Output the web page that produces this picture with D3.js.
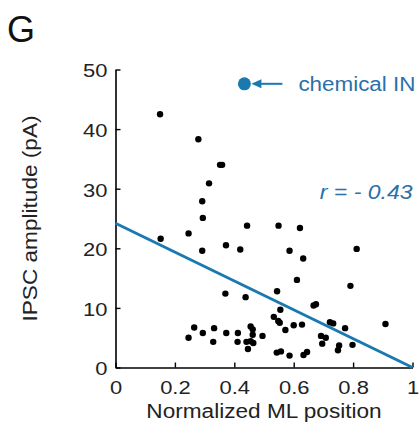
<!DOCTYPE html>
<html>
<head>
<meta charset="utf-8">
<script src="https://cdn.jsdelivr.net/npm/d3@7"></script>
<style>
  body { margin: 0; background: #fff; }
  svg text { font-family: "Liberation Sans", Arial, sans-serif; }
</style>
</head>
<body>
<svg id="chart"></svg>
<script>
// normalized ML position vs IPSC amplitude (pA), one entry per cell
const mlPos = [0.150, 0.279, 0.352, 0.359, 0.315, 0.292, 0.294, 0.443, 0.246, 0.152,
  0.372, 0.420, 0.292, 0.370, 0.438, 0.265, 0.246, 0.294, 0.332, 0.329,
  0.373, 0.412, 0.411, 0.455, 0.462, 0.462, 0.441, 0.455, 0.464, 0.446,
  0.495, 0.549, 0.621, 0.812, 0.586, 0.632, 0.611, 0.791, 0.544, 0.667,
  0.675, 0.555, 0.533, 0.548, 0.553, 0.600, 0.628, 0.722, 0.733, 0.909,
  0.773, 0.572, 0.692, 0.708, 0.696, 0.753, 0.749, 0.798, 0.543, 0.557,
  0.586, 0.633, 0.645];
const ipscAmp = [42.5, 38.3, 34.0, 34.0, 30.9, 27.9, 25.1, 23.8, 22.5, 21.6,
  20.5, 19.8, 19.6, 12.4, 11.8, 6.7, 5.0, 5.8, 6.6, 4.3,
  5.8, 5.8, 4.3, 6.9, 6.4, 5.5, 4.3, 4.4, 4.1, 3.1,
  5.3, 23.8, 23.4, 19.9, 19.6, 18.3, 14.7, 13.7, 12.8, 10.4,
  10.6, 9.7, 8.5, 7.8, 7.5, 7.1, 7.2, 7.6, 7.4, 7.3,
  6.6, 6.3, 5.3, 5.0, 4.0, 3.7, 2.9, 3.8, 2.5, 2.7,
  2.0, 2.1, 2.6];
// linear fit, r = -0.43
const fitX = [0, 1];
const fitY = [24.2, 0];
// chemical IN marker
const chemX = [0.434];
const chemY = [47.6];
const xTicks = [0, 0.2, 0.4, 0.6, 0.8, 1];
const yTicks = [0, 10, 20, 30, 40, 50];

const W = 420, H = 425;
const margin = {top: 69.5, right: 7.5, bottom: 57.5, left: 115.5};
const width = W - margin.left - margin.right;
const height = H - margin.top - margin.bottom;
const blue = "#1b79b1";
const textBlue = "#2b70a8";

// text in the figure is wider than Arial, widen glyphs to match
function stretch(sel, k) {
  sel.each(function() {
    const len = this.getComputedTextLength();
    d3.select(this).attr("textLength", len * k).attr("lengthAdjust", "spacingAndGlyphs");
  });
}

const svg = d3.select("#chart").attr("width", W).attr("height", H);
const g = svg.append("g").attr("transform", `translate(${margin.left},${margin.top})`);

const x = d3.scaleLinear().domain([0, 1]).range([0, width]);
const y = d3.scaleLinear().domain([0, 50]).range([height, 0]);

const xAxis = d3.axisBottom(x).tickValues(xTicks).tickSizeInner(-5).tickSizeOuter(0)
  .tickPadding(13.5).tickFormat(d3.format("~g"));
const yAxis = d3.axisLeft(y).tickValues(yTicks).tickSizeInner(-5).tickSizeOuter(0)
  .tickPadding(8);

const xG = g.append("g").attr("transform", `translate(0,${height})`).call(xAxis);
const yG = g.append("g").call(yAxis);

[xG, yG].forEach(ax => {
  ax.select(".domain").attr("stroke", "#000").attr("stroke-width", 1.6);
  ax.selectAll(".tick line").attr("stroke", "#000").attr("stroke-width", 1.4);
  ax.selectAll(".tick text").attr("fill", "#222").style("font-size", "18.6px").call(stretch, 1.18);
});
yG.selectAll(".tick text").attr("dy", "0.4em");

// points
const pts = mlPos.map((v, i) => ({x: v, y: ipscAmp[i]}));
g.append("g").selectAll("circle").data(pts).join("circle")
  .attr("cx", d => x(d.x))
  .attr("cy", d => y(d.y))
  .attr("r", 3.2)
  .attr("fill", "#000");

// fit line
const fit = fitX.map((v, i) => [v, fitY[i]]);
g.append("path")
  .datum(fit)
  .attr("d", d3.line().x(d => x(d[0])).y(d => y(d[1])))
  .attr("stroke", blue)
  .attr("stroke-width", 3)
  .attr("fill", "none");

// chemical IN marker with arrow
const cx = x(chemX[0]), cy = y(chemY[0]);
g.append("circle").attr("cx", cx).attr("cy", cy).attr("r", 6.5).attr("fill", blue);
g.append("line")
  .attr("x1", cx + 14).attr("x2", cx + 38)
  .attr("y1", cy).attr("y2", cy)
  .attr("stroke", blue).attr("stroke-width", 2);
g.append("path")
  .attr("d", `M${cx + 7},${cy} L${cx + 17},${cy - 4.5} L${cx + 17},${cy + 4.5} Z`)
  .attr("fill", blue);

g.append("text")
  .attr("x", cx + 54).attr("y", cy + 7)
  .attr("fill", textBlue)
  .style("font-size", "20px")
  .text("chemical IN")
  .call(stretch, 1.12);

g.append("text")
  .attr("x", width).attr("y", y(28.3))
  .attr("text-anchor", "end")
  .attr("fill", textBlue)
  .style("font-size", "19.5px")
  .style("font-style", "italic")
  .text("r = - 0.43")
  .call(stretch, 1.18);

// axis titles
svg.append("text")
  .attr("x", margin.left + width / 2).attr("y", 417.5)
  .attr("text-anchor", "middle")
  .attr("fill", "#222")
  .style("font-size", "20px")
  .text("Normalized ML position")
  .call(stretch, 1.13);

svg.append("text")
  .attr("transform", `translate(37,${margin.top + height / 2}) rotate(-90)`)
  .attr("text-anchor", "middle")
  .attr("fill", "#222")
  .style("font-size", "20px")
  .text("IPSC amplitude (pA)")
  .call(stretch, 1.13);

// panel letter
svg.append("text")
  .attr("x", 7).attr("y", 42)
  .attr("fill", "#111")
  .style("font-size", "36px")
  .text("G");
</script>
</body>
</html>
